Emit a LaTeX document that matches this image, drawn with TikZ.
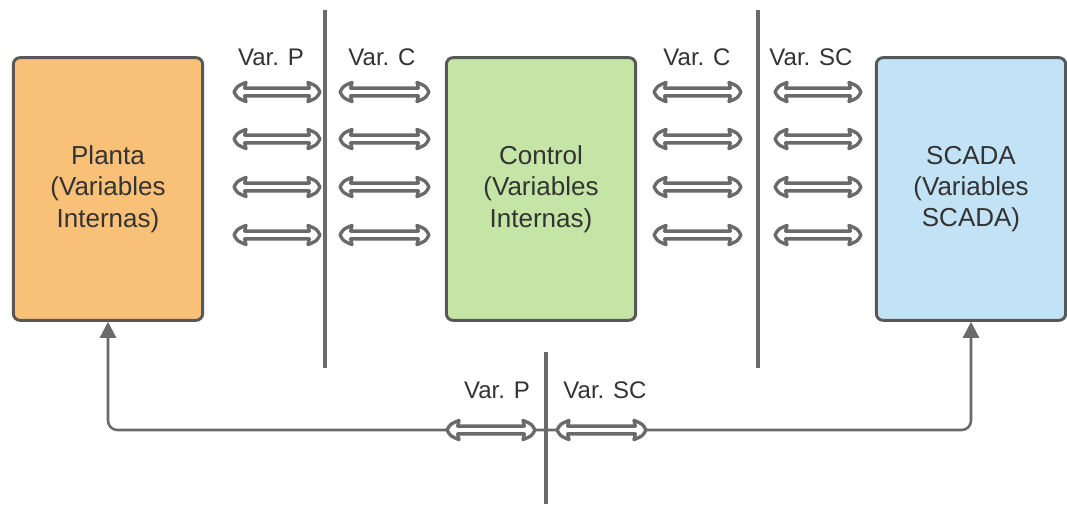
\documentclass[tikz,border=0pt]{standalone}
\usepackage{fontspec}
\setmainfont{Liberation Sans}
\usetikzlibrary{arrows.meta,calc}
\definecolor{ink}{HTML}{333333}
\definecolor{boxline}{HTML}{585858}
\definecolor{wire}{HTML}{6A6A6A}
\definecolor{plantfill}{HTML}{F9C077}
\definecolor{ctrlfill}{HTML}{C5E5A6}
\definecolor{scadafill}{HTML}{C2E3F5}
\begin{document}
\begin{tikzpicture}[x=0.75pt,y=-0.75pt,
  box/.style={draw=boxline, line width=2.2pt, rounded corners=5pt,
    minimum width=142pt, minimum height=197pt, inner sep=0pt,
    align=center, text=ink, font=\fontsize{19.5}{23.5}\selectfont},
  lbl/.style={text=ink, inner sep=0pt, font=\fontsize{18}{21}\selectfont},
  divider/.style={draw=wire, line width=2.3pt},
  bus/.style={draw=wire, line width=1.9pt, rounded corners=7pt,
    {Triangle[length=12pt,width=12pt]}-{Triangle[length=12pt,width=12pt]}},
  % hollow two-headed block arrow between two points on one row
  dblarrow/.style={draw=wire, fill=white, line width=2.5pt, line join=round,
    to path={let \p1=(\tikztostart), \p2=(\tikztotarget) in
      (\x1,\y1) .. controls (\x1+2.5pt,\y1+4.5pt) .. (\x1+9pt,\y1+7.2pt)
      -- (\x1+8pt,\y1+2.9pt) -- (\x2-8pt,\y1+2.9pt) -- (\x2-9pt,\y1+7.2pt)
      .. controls (\x2-2.5pt,\y1+4.5pt) .. (\x2,\y1)
      .. controls (\x2-2.5pt,\y1-4.5pt) .. (\x2-9pt,\y1-7.2pt)
      -- (\x2-8pt,\y1-2.9pt) -- (\x1+8pt,\y1-2.9pt) -- (\x1+9pt,\y1-7.2pt)
      .. controls (\x1+2.5pt,\y1-4.5pt) .. (\x1,\y1) -- cycle}}
]
\useasboundingbox (0,0) rectangle (1067,504);

% blocks
\node[box, fill=plantfill] (planta) at (108,189) {Planta\\(Variables\\Internas)};
\node[box, fill=ctrlfill]  (control) at (541,189) {Control\\(Variables\\Internas)};
\node[box, fill=scadafill] (scada) at (971,189) {SCADA\\(Variables\\SCADA)};

% dividers
\coordinate (d1t) at (325,10);  \coordinate (d1b) at (325,368);
\coordinate (d2t) at (758,10);  \coordinate (d2b) at (758,368);
\coordinate (d3t) at (546,352); \coordinate (d3b) at (546,504);
\draw[divider] (d1t) -- (d1b);
\draw[divider] (d2t) -- (d2b);
\draw[divider] (d3t) -- (d3b);

% interface labels
\node[lbl] (vp1) at (271,57) {Var. P};
\node[lbl] (vc1) at (382,57) {Var. C};
\node[lbl] (vc2) at (697,57) {Var. C};
\node[lbl] (vs1) at (811,57) {Var. SC};
\node[lbl] (vp2) at (497,390) {Var. P};
\node[lbl] (vs2) at (605,390) {Var. SC};

% variable exchanges between blocks
\foreach \y [count=\i] in {92,139,187,235} {
  \coordinate (pa\i) at (234,\y); \coordinate (pb\i) at (320,\y);
  \coordinate (ca\i) at (340,\y); \coordinate (cb\i) at (429,\y);
  \coordinate (ka\i) at (654,\y); \coordinate (kb\i) at (741,\y);
  \coordinate (sa\i) at (775,\y); \coordinate (sb\i) at (861,\y);
  \draw[dblarrow] (pa\i) to (pb\i);
  \draw[dblarrow] (ca\i) to (cb\i);
  \draw[dblarrow] (ka\i) to (kb\i);
  \draw[dblarrow] (sa\i) to (sb\i);
}

% direct link between plant and SCADA
\coordinate (junction) at (546,430);
\draw[bus] (planta.south) |- (junction) -| (scada.south);
\coordinate (ba) at (447,430); \coordinate (bb) at (535,430);
\coordinate (bc) at (557,430); \coordinate (bd) at (646,430);
\draw[dblarrow] (ba) to (bb);
\draw[dblarrow] (bc) to (bd);
\end{tikzpicture}
\end{document}
